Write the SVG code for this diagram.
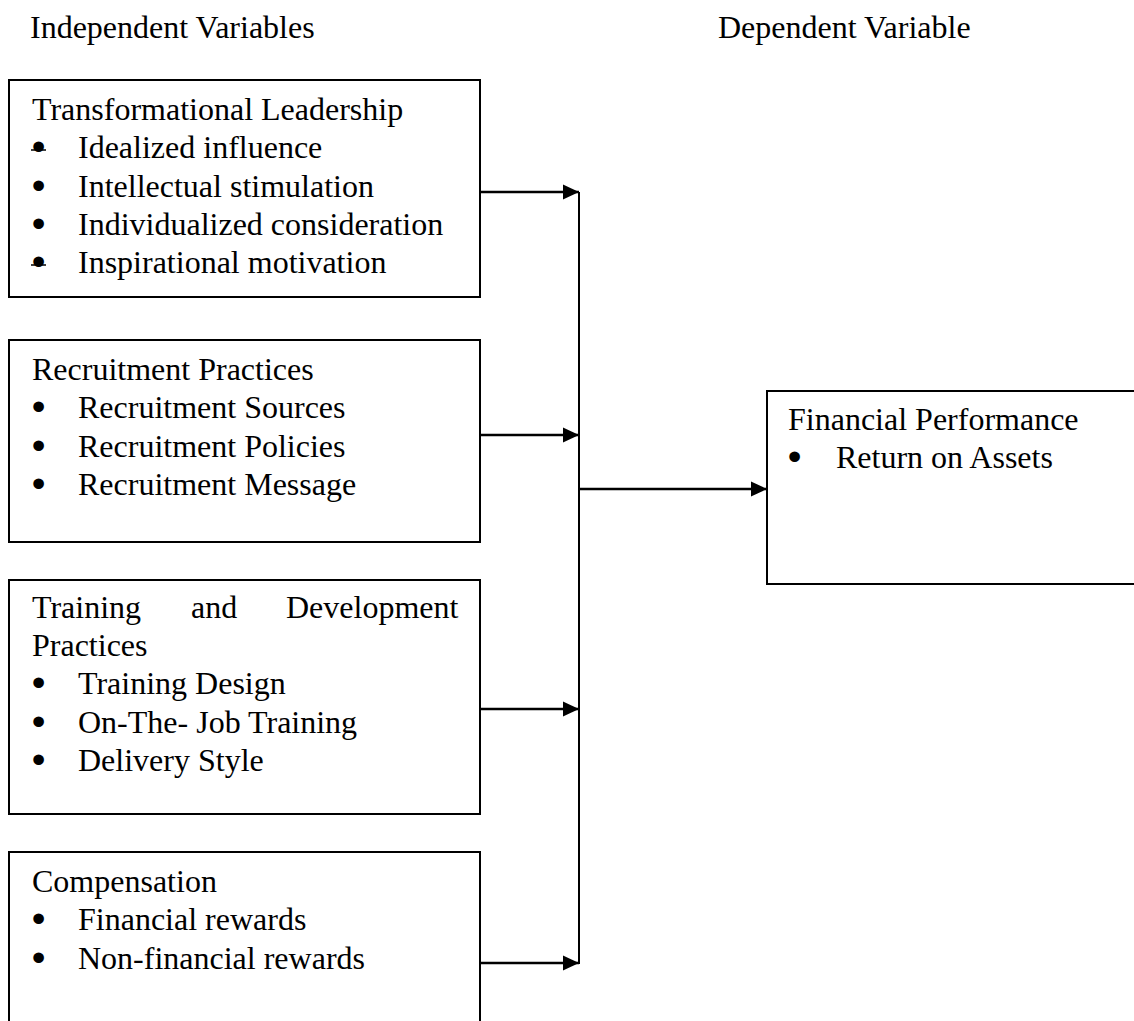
<svg xmlns="http://www.w3.org/2000/svg" width="1134" height="1021" viewBox="0 0 1134 1021">
  <style>
    text { font-family: "Liberation Serif", "Times New Roman", serif; font-size: 32px; fill: #000; }
    .bul { stroke: #000; stroke-width: 3; }
    .box { fill: #fff; stroke: #000; stroke-width: 2; }
    .conn { stroke: #000; stroke-width: 2.5; fill: none; }
    .trunk { stroke: #000; stroke-width: 2; fill: none; }
  </style>
  <defs>
    <marker id="arr" markerUnits="userSpaceOnUse" markerWidth="16" markerHeight="16" viewBox="0 0 16 16" refX="16" refY="8" orient="auto">
      <polygon points="0,0.5 16,8 0,15.5" fill="#000"/>
    </marker>
  </defs>
  <rect width="1134" height="1021" fill="#fff"/>

  <text x="30" y="38">Independent Variables</text>
  <text x="718" y="38">Dependent Variable</text>

  <g id="transformational-leadership">
    <rect class="box" x="9" y="80" width="471" height="217"/>
    <text x="32" y="120">Transformational Leadership</text>
    <text class="bul" x="33" y="158">•</text>
    <line x1="31" y1="150" x2="46" y2="150" stroke="#000" stroke-width="1.5"/>
    <text x="78" y="158">Idealized influence</text>
    <text class="bul" x="33" y="197">•</text>
    <text x="78" y="197">Intellectual stimulation</text>
    <text class="bul" x="33" y="235">•</text>
    <text x="78" y="235">Individualized consideration</text>
    <text class="bul" x="33" y="273">•</text>
    <line x1="31" y1="265" x2="46" y2="265" stroke="#000" stroke-width="1.5"/>
    <text x="78" y="273">Inspirational motivation</text>
  </g>

  <g id="recruitment-practices">
    <rect class="box" x="9" y="340" width="471" height="202"/>
    <text x="32" y="380">Recruitment Practices</text>
    <text class="bul" x="33" y="418">•</text>
    <text x="78" y="418">Recruitment Sources</text>
    <text class="bul" x="33" y="457">•</text>
    <text x="78" y="457">Recruitment Policies</text>
    <text class="bul" x="33" y="495">•</text>
    <text x="78" y="495">Recruitment Message</text>
  </g>

  <g id="training-development">
    <rect class="box" x="9" y="580" width="471" height="234"/>
    <text y="618"><tspan x="32">Training</tspan><tspan x="191">and</tspan><tspan x="286">Development</tspan></text>
    <text x="32" y="656">Practices</text>
    <text class="bul" x="33" y="694">•</text>
    <text x="78" y="694">Training Design</text>
    <text class="bul" x="33" y="733">•</text>
    <text x="78" y="733">On-The- Job Training</text>
    <text class="bul" x="33" y="771">•</text>
    <text x="78" y="771">Delivery Style</text>
  </g>

  <g id="compensation">
    <rect class="box" x="9" y="852" width="471" height="200"/>
    <text x="32" y="892">Compensation</text>
    <text class="bul" x="33" y="930">•</text>
    <text x="78" y="930">Financial rewards</text>
    <text class="bul" x="33" y="969">•</text>
    <text x="78" y="969">Non-financial rewards</text>
  </g>

  <g id="financial-performance">
    <rect class="box" x="767" y="391" width="400" height="193"/>
    <text x="788" y="430">Financial Performance</text>
    <text class="bul" x="789" y="468">•</text>
    <text x="836" y="468">Return on Assets</text>
  </g>

  <g id="connectors">
    <line class="trunk" x1="579" y1="192" x2="579" y2="964"/>
    <line class="conn" x1="480" y1="192" x2="579" y2="192" marker-end="url(#arr)"/>
    <line class="conn" x1="480" y1="435" x2="579" y2="435" marker-end="url(#arr)"/>
    <line class="conn" x1="480" y1="709" x2="579" y2="709" marker-end="url(#arr)"/>
    <line class="conn" x1="480" y1="963" x2="579" y2="963" marker-end="url(#arr)"/>
    <line class="conn" x1="579" y1="489" x2="767" y2="489" marker-end="url(#arr)"/>
  </g>
</svg>
